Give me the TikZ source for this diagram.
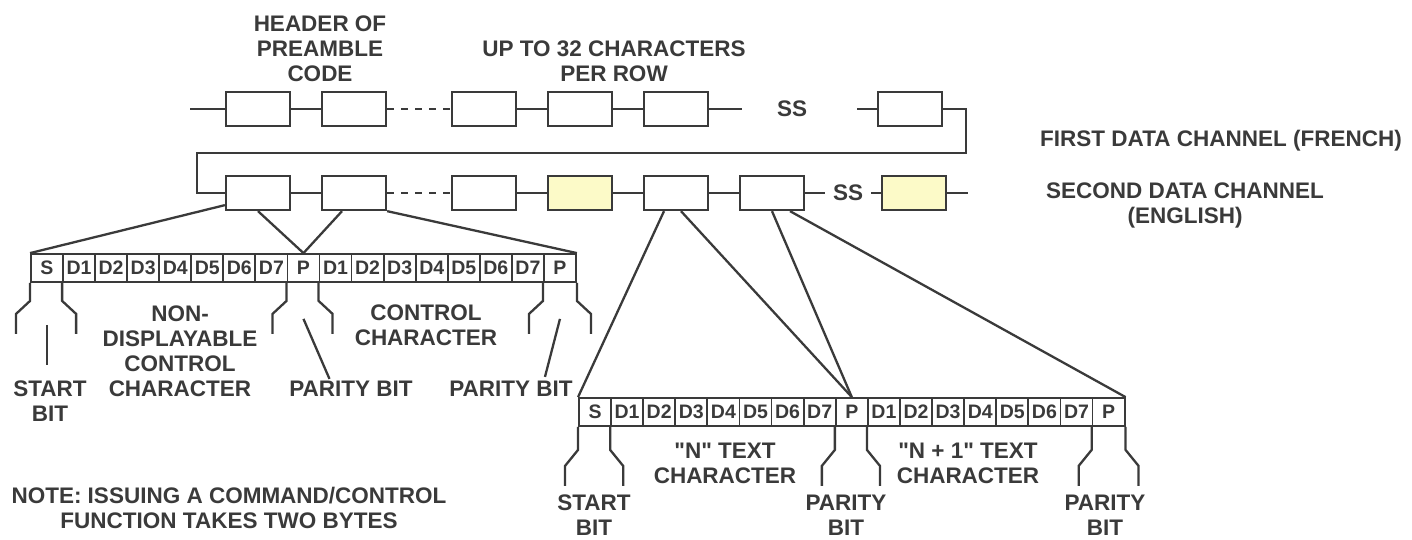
\documentclass[tikz,border=0pt]{standalone}
\usepackage{fontspec}
\setmainfont{Liberation Sans}
\usetikzlibrary{positioning}

\definecolor{ink}{RGB}{58,58,58}
\definecolor{paleyellow}{RGB}{252,250,200}
\newcommand{\lblsize}{\fontsize{22.5}{25}\selectfont\bfseries}
\newcommand{\bitsize}{\fontsize{19.5}{20}\selectfont\bfseries}

\begin{document}
\begin{tikzpicture}[x=1pt, y=-1pt, node distance=96pt, on grid, color=ink, line width=2.3pt,
  charbox/.style={draw, minimum width=64pt, minimum height=34pt, inner sep=0pt},
  bitcell/.style={draw, line width=1.8pt, minimum width=32.1pt, minimum height=28pt, inner sep=0pt, font=\bitsize},
  lbl/.style={align=center, font=\lblsize, inner sep=0pt},
  hilite/.style={fill=paleyellow},
  gapline/.style={dash pattern=on 7pt off 7pt}]

\useasboundingbox (0,0) rectangle (1412,540);

% first data channel
\node[charbox] (t1) at (258,109) {};
\node[charbox, right=of t1] (t2) {};
\node[charbox, right=130pt of t2] (t3) {};
\node[charbox, right=of t3] (t4) {};
\node[charbox, right=of t4] (t5) {};
\node[lbl] (ss1) at (792,109) {SS};
\node[charbox] (t6) at (910,109) {};
\coordinate (tin) at (190,109);
\coordinate (tgap1) at (742,109);
\coordinate (tgap2) at (857,109);
\coordinate (wrap) at (197,153);

% second data channel
\node[charbox] (c1) at (258,193) {};
\node[charbox, right=of c1] (c2) {};
\node[charbox, right=130pt of c2] (c3) {};
\node[charbox, hilite, right=of c3] (c4) {};
\node[charbox, right=of c4] (c5) {};
\node[charbox, right=of c5] (c6) {};
\node[lbl, inner xsep=7pt] (ss2) at (848,193) {SS};
\node[charbox, hilite] (y2) at (914,193) {};
\coordinate (cout) at (968,193);

\draw (tin) -- (t1) -- (t2);
\draw[gapline] (t2) -- (t3);
\draw (t3) -- (t4) -- (t5) -- (tgap1);
\draw (tgap2) -- (t6);
\draw (t6.east) -- ++(23,0) |- (wrap) |- (c1.west);
\draw (c1) -- (c2);
\draw[gapline] (c2) -- (c3);
\draw (c3) -- (c4) -- (c5) -- (c6) -- (ss2) -- (y2) -- (cout);

% bit strips
\foreach \t [count=\i from 0] in {S,D1,D2,D3,D4,D5,D6,D7,P,D1,D2,D3,D4,D5,D6,D7,P} {
  \node[bitcell] (a\i) at ({47+32.06*\i},268) {\t};
  \node[bitcell] (b\i) at ({595+32.1*\i},412) {\t};
}

\draw ([yshift=6pt]c1.south west) -- (a0.north west);
\draw (c1.south) -- (a8.north);
\draw ([xshift=-12pt]c2.south) -- (a8.north);
\draw (c2.south east) -- (a16.north east);
\draw ([xshift=-12pt]c5.south) -- (b0.north west);
\draw ([xshift=5pt]c5.south) -- (b8.north);
\draw (c6.south) -- (b8.north);
\draw ([xshift=18pt]c6.south) -- (b16.north east);

% brackets under the bits
\foreach \n/\d in {a0.south west/-1, a1.south west/1, a8.south west/-1, a9.south west/1, a16.south west/-1, a16.south east/1}
  \draw (\n) -- ++(0,18) -- ++({14*\d},13) -- ++(0,20);
\foreach \n/\d in {b0.south west/-1, b1.south west/1, b8.south west/-1, b9.south west/1, b16.south west/-1, b16.south east/1}
  \draw (\n) -- ++(0,23) -- ++({13*\d},16) -- ++(0,20);
\draw ([yshift=-42pt]a0.south) -- ++(0,40);
\draw ([yshift=-36pt]a8.south) -- ++(26,60);
\draw ([yshift=-36pt]a16.south) -- ++(-15,58);

% labels
\node[lbl] (hdr) at (320,49) {HEADER OF\\PREAMBLE\\CODE};
\node[lbl] (upto) at (614,61.5) {UP TO 32 CHARACTERS\\PER ROW};
\node[lbl] (ch1) at (1221,141) {FIRST DATA CHANNEL (FRENCH)};
\node[lbl] (ch2) at (1185,205) {SECOND DATA CHANNEL\\(ENGLISH)};
\node[lbl] (start1) at (50,401) {START\\BIT};
\node[lbl] (ctl1) at (180,351.5) {NON-\\DISPLAYABLE\\CONTROL\\CHARACTER};
\node[lbl] (par1) at (351,389) {PARITY BIT};
\node[lbl] (ctl2) at (426,325) {CONTROL\\CHARACTER};
\node[lbl] (par2) at (511,389) {PARITY BIT};
\node[lbl] (note) at (229,508) {NOTE: ISSUING A COMMAND/CONTROL\\FUNCTION TAKES TWO BYTES};
\node[lbl] (start2) at (594,515) {START\\BIT};
\node[lbl] (txt1) at (725,463) {\textquotedbl N\textquotedbl{} TEXT\\CHARACTER};
\node[lbl] (par3) at (846,515) {PARITY\\BIT};
\node[lbl] (txt2) at (968,463) {\textquotedbl N + 1\textquotedbl{} TEXT\\CHARACTER};
\node[lbl] (par4) at (1105,515) {PARITY\\BIT};
\end{tikzpicture}
\end{document}
